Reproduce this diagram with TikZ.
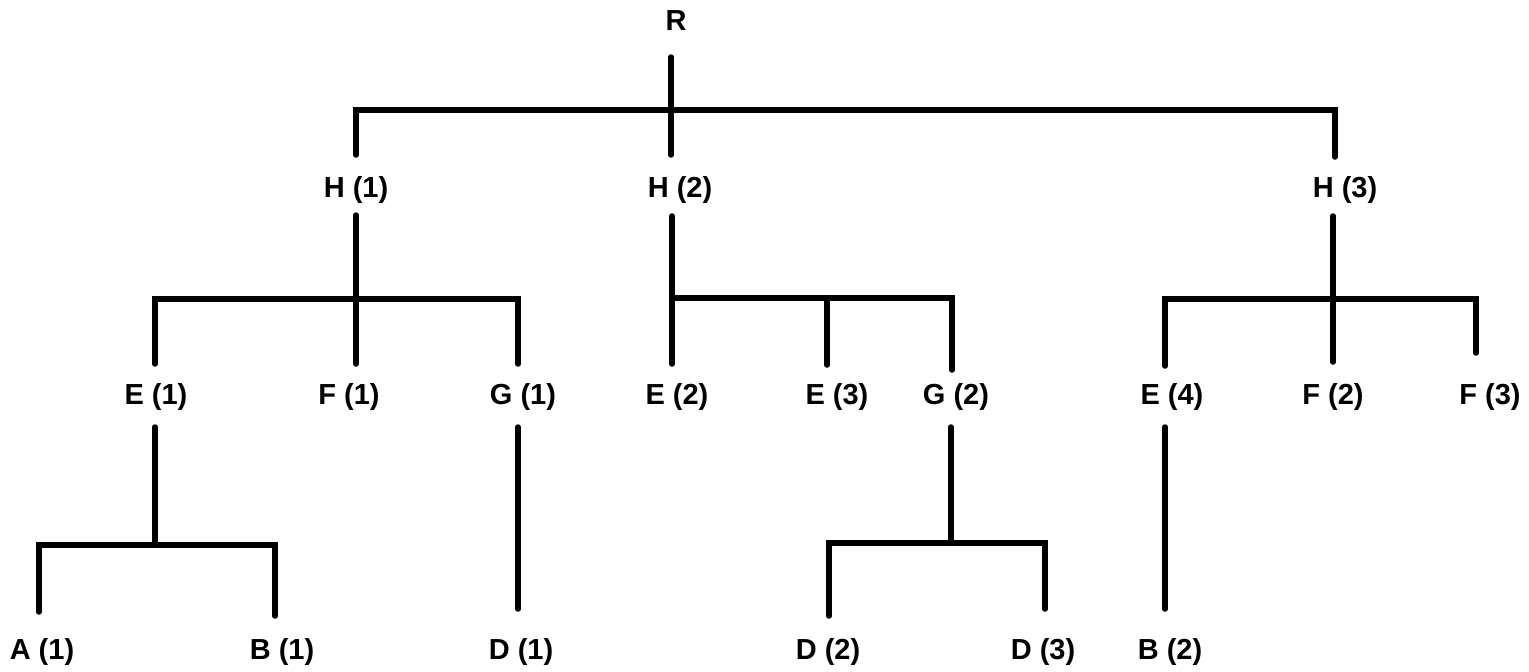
\documentclass[tikz,border=0pt]{standalone}
\usepackage{fontspec}
\setmainfont{Liberation Sans}
\begin{document}
\begin{tikzpicture}[x=1pt,y=-1pt,
  lab/.style={font=\fontsize{29}{32}\selectfont\bfseries, inner sep=0pt, anchor=center},
  ln/.style={line width=5.5pt, line cap=round, line join=miter, black}]
\useasboundingbox (0,0) rectangle (1529,672);
% labels
\node[lab] (R) at (676,21) {R};
\node[lab] (H1) at (356,190) {H (1)};
\node[lab] (H2) at (680,190) {H (2)};
\node[lab] (H3) at (1345,190) {H (3)};
\node[lab] (E1) at (156,397) {E (1)};
\node[lab] (F1) at (349,397) {F (1)};
\node[lab] (G1) at (523,397) {G (1)};
\node[lab] (E2) at (677,397) {E (2)};
\node[lab] (E3) at (837,397) {E (3)};
\node[lab] (G2) at (956,397) {G (2)};
\node[lab] (E4) at (1172,397) {E (4)};
\node[lab] (F2) at (1333,397) {F (2)};
\node[lab] (F3) at (1490,397) {F (3)};
\node[lab] (A1) at (42,652) {A (1)};
\node[lab] (B1) at (282,652) {B (1)};
\node[lab] (D1) at (521,652) {D (1)};
\node[lab] (D2) at (828,652) {D (2)};
\node[lab] (D3) at (1043,652) {D (3)};
\node[lab] (B2) at (1170,652) {B (2)};
% coordinates
\coordinate (r0) at (671,57);  \coordinate (r1) at (671,155);
\coordinate (b0L) at (356,110); \coordinate (b0R) at (1335,110);
\coordinate (h1t) at (356,155); \coordinate (h3t) at (1335,157);
\coordinate (h1b) at (356,215); \coordinate (f1u) at (356,364);
\coordinate (e1t) at (155,299); \coordinate (g1t) at (518,299);
\coordinate (e1u) at (155,364); \coordinate (g1u) at (518,364);
\coordinate (h2b) at (672,216); \coordinate (e2u) at (672,364);
\coordinate (h2j) at (672,298); \coordinate (g2t) at (952,298);
\coordinate (g2u) at (952,370);
\coordinate (e3t) at (827,298); \coordinate (e3u) at (827,365);
\coordinate (h3b) at (1333,216); \coordinate (f2u) at (1333,362);
\coordinate (e4t) at (1165,299); \coordinate (f3t) at (1476,299);
\coordinate (e4u) at (1165,366); \coordinate (f3u) at (1476,353);
\coordinate (e1b) at (155,427); \coordinate (e1j) at (155,545);
\coordinate (a1t) at (39,545);  \coordinate (b1t) at (275,545);
\coordinate (a1u) at (39,612);  \coordinate (b1u) at (275,616);
\coordinate (g1b) at (518,427); \coordinate (d1u) at (518,609);
\coordinate (g2b) at (951,427); \coordinate (g2j) at (951,543);
\coordinate (d2t) at (829,543); \coordinate (d3t) at (1045,543);
\coordinate (d2u) at (829,616); \coordinate (d3u) at (1045,609);
\coordinate (e4b) at (1165,427); \coordinate (b2u) at (1165,609);
% connectors
\draw[ln] (r0) -- (r1);
\draw[ln] (h1t) -- (b0L) -- (b0R) -- (h3t);
\draw[ln] (h1b) -- (f1u);
\draw[ln] (e1u) -- (e1t) -- (g1t) -- (g1u);
\draw[ln] (h2b) -- (e2u);
\draw[ln] (h2j) -- (g2t) -- (g2u);
\draw[ln] (e3t) -- (e3u);
\draw[ln] (h3b) -- (f2u);
\draw[ln] (e4u) -- (e4t) -- (f3t) -- (f3u);
\draw[ln] (e1b) -- (e1j);
\draw[ln] (a1u) -- (a1t) -- (b1t) -- (b1u);
\draw[ln] (g1b) -- (d1u);
\draw[ln] (g2b) -- (g2j);
\draw[ln] (d2u) -- (d2t) -- (d3t) -- (d3u);
\draw[ln] (e4b) -- (b2u);
\end{tikzpicture}
\end{document}
